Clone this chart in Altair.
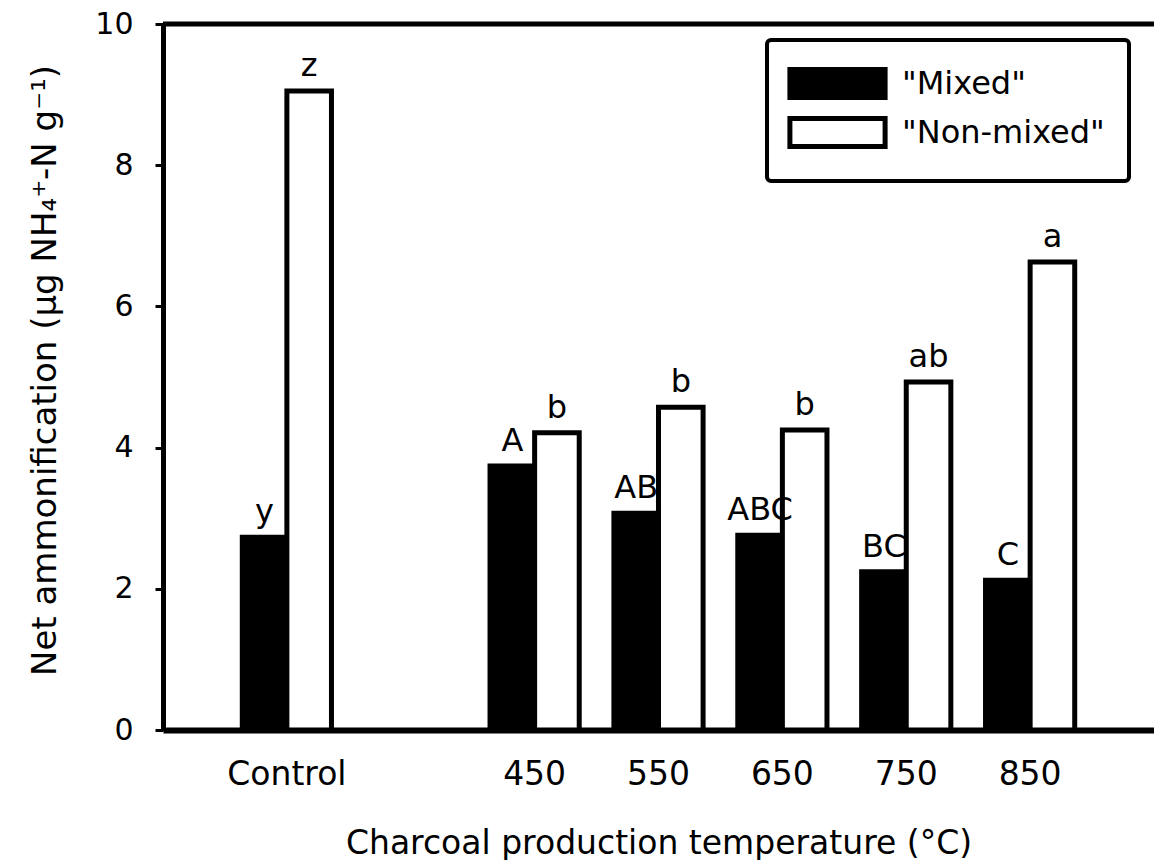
import altair as alt
import pandas as pd

groups = ["Control", "450", "550", "650", "750", "850"]
x_domain = ["Control", " ", "450", "550", "650", "750", "850"]
series = ["Mixed", "Non-mixed"]
mixed = [2.73, 3.74, 3.07, 2.76, 2.24, 2.12]
non_mixed = [9.05, 4.21, 4.57, 4.25, 4.93, 6.63]
mixed_letters = ["y", "A", "AB", "ABC", "BC", "C"]
non_mixed_letters = ["z", "b", "b", "b", "ab", "a"]
y_ticks = [0, 2, 4, 6, 8, 10]

rows = []
for g, m, n, ml, nl in zip(groups, mixed, non_mixed, mixed_letters, non_mixed_letters):
    rows.append({"group": g, "series": "Mixed", "value": m, "letter": ml})
    rows.append({"group": g, "series": "Non-mixed", "value": n, "letter": nl})
df = pd.DataFrame(rows)

W, H = 991, 706
FONT = "DejaVu Sans"

x_enc = alt.X(
    "group:N",
    scale=alt.Scale(domain=x_domain, paddingInner=0.28, paddingOuter=0.64),
    axis=alt.Axis(
        title="Charcoal production temperature (°C)",
        labelAngle=0, ticks=False, labelPadding=28,
        labelFontSize=33, titleFontSize=33, titleFontWeight="normal",
        titlePadding=36, domainWidth=6, domainColor="black",
        labelColor="black", titleColor="black", grid=False,
    ),
)
xoff = alt.XOffset("series:N", scale=alt.Scale(domain=series, paddingInner=0, paddingOuter=0))
y_enc = alt.Y(
    "value:Q",
    scale=alt.Scale(domain=[0, 10]),
    axis=alt.Axis(
        title="Net ammonification (µg NH₄⁺-N  g⁻¹)",
        values=y_ticks, format="d", tickSize=8, tickWidth=3, tickColor="black",
        labelFontSize=30, labelPadding=22, titleFontSize=34,
        titleFontWeight="normal", titlePadding=32, titleY=346,
        domainWidth=5, domainColor="black", labelColor="black",
        titleColor="black", grid=False,
    ),
)

bars = alt.Chart(df).mark_bar(stroke="black", strokeWidth=5).encode(
    x=x_enc,
    xOffset=xoff,
    y=y_enc,
    fill=alt.Fill(
        "series:N",
        scale=alt.Scale(domain=series, range=["black", "white"]),
        legend=alt.Legend(
            title=None, orient="none", legendX=604, legendY=16,
            direction="vertical",
            labelExpr="'\"' + datum.label + '\"'",
            labelFontSize=32, labelColor="black", labelOffset=45, labelLimit=400,
            symbolType="M-2.8,-0.82L2.8,-0.82L2.8,0.82L-2.8,0.82Z", symbolSize=1156,
            symbolOffset=27,
            symbolStrokeColor="black", symbolStrokeWidth=5,
            strokeColor="black", fillColor="white", padding=24,
        ),
    ),
)

texts = alt.Chart(df).mark_text(baseline="bottom", dy=-8, fontSize=32, color="black").encode(
    x=alt.X("group:N", scale=alt.Scale(domain=x_domain, paddingInner=0.28, paddingOuter=0.64)),
    xOffset=xoff,
    y=alt.Y("value:Q"),
    text="letter:N",
)

top_line = alt.Chart(pd.DataFrame({"k": [0]})).mark_rule(color="black", strokeWidth=5).encode(
    x=alt.value(0), x2=alt.value(W), y=alt.value(0)
)

chart = alt.layer(bars, texts, top_line).properties(
    width=W, height=H,
    autosize=alt.AutoSizeParams(type="none"),
    padding={"left": 163, "top": 24, "right": 0, "bottom": 130},
).configure_view(stroke=None).configure(font=FONT, background="white").configure_legend(
    strokeWidth=4, cornerRadius=4, rowPadding=0
)

chart.save("out.html", embed_options={"renderer": "svg", "actions": False})
